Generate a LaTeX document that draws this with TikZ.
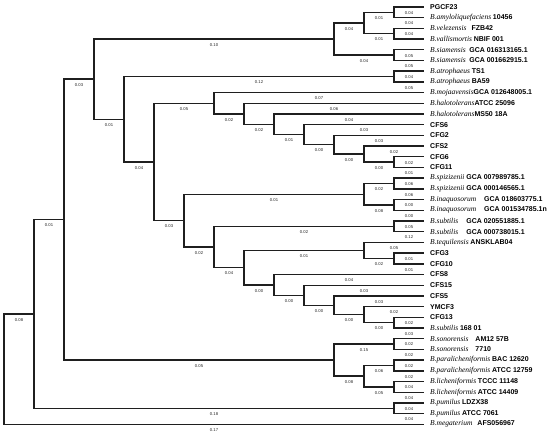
\documentclass[tikz,border=0pt]{standalone}
\usepackage{fontspec}
\setmainfont{Liberation Serif}
\setsansfont{Liberation Sans}
\newcommand\spc[1]{{\fontsize{7.5}{8}\selectfont\itshape #1}}
\newcommand\stn[1]{{\fontsize{7}{8}\selectfont\sffamily\bfseries #1}}
\newcommand\C[3]{\coordinate (#1) at (#2,{7+10.7*(#3-1)});}
\newcommand\E[3]{\draw[br] (#1) |- (#2) node[bl]{#3};}
\newcommand\En[2]{\draw[br] (#1) |- (#2);}
\newcommand\LF[2]{\node[lf] (n#1) at ([xshift=6pt]t#1) {#2};}
\tikzset{
  br/.style={line width=1.4pt, draw=black!88, line join=miter},
  bl/.style={pos=0.75, below=3.6pt, inner sep=0pt, text=black!85,
    font=\fontsize{4.2}{4.5}\selectfont\sffamily},
  lf/.style={anchor=west, inner sep=0pt, font=\fontsize{7}{8}\selectfont},
}
\begin{document}
\begin{tikzpicture}[x=1pt,y=-1pt]
\fill[white] (0,0) rectangle (550,436);
\useasboundingbox (0,0) rectangle (550,436);
% leaf tips
\foreach \i in {1,...,40}{\C{t\i}{424}{\i}}
% internal nodes
\C{r}{4}{34.84308}
\C{n1}{34}{29.68616}
\C{n2}{64}{20.87231}
\C{n3}{94}{7.74463}
\C{namy}{334}{4}
\C{namy2}{364}{2.5}
\C{p12}{394}{1.5}
\C{p34}{394}{3.5}
\C{p56}{394}{5.5}
\C{n4}{124}{11.48926}
\C{p78}{394}{7.5}
\C{n5}{154}{15.47852}
\C{nh1}{214}{9.9921875}
\C{nh2}{244}{10.984375}
\C{nh3}{274}{11.96875}
\C{nh4}{304}{12.9375}
\C{nh5}{334}{13.875}
\C{nh6}{364}{14.75}
\C{p1516}{394}{15.5}
\C{ns}{184}{20.96484}
\C{nspiz}{364}{18.5}
\C{p1718}{394}{17.5}
\C{p1920}{394}{19.5}
\C{ns2}{214}{23.4296875}
\C{p2122}{394}{21.5}
\C{ns3}{244}{25.359375}
\C{nteq}{364}{23.75}
\C{p2425}{394}{24.5}
\C{ns4}{274}{26.96875}
\C{ns5}{304}{27.9375}
\C{ns6}{334}{28.875}
\C{ns7}{364}{29.75}
\C{p3031}{394}{30.5}
\C{nl}{334}{34}
\C{p3233}{394}{32.5}
\C{nl2}{364}{35.5}
\C{p3435}{394}{34.5}
\C{p3637}{394}{36.5}
\C{p3839}{394}{38.5}
% edges
\E{r}{n1}{0.08}\E{r}{t40}{0.17}
\E{n1}{n2}{0.01}\E{n1}{p3839}{0.18}
\E{n2}{n3}{0.03}\E{n2}{nl}{0.05}
\E{n3}{namy}{0.10}\E{n3}{n4}{0.01}
\E{namy}{namy2}{0.04}\E{namy}{p56}{0.04}
\E{namy2}{p12}{0.01}\E{namy2}{p34}{0.01}
\E{p12}{t1}{0.04}\E{p12}{t2}{0.04}
\E{p34}{t3}{0.04}\En{p34}{t4}
\E{p56}{t5}{0.05}\E{p56}{t6}{0.05}
\E{n4}{p78}{0.12}\E{n4}{n5}{0.04}
\E{p78}{t7}{0.04}\E{p78}{t8}{0.05}
\E{n5}{nh1}{0.05}\E{n5}{ns}{0.03}
\E{nh1}{t9}{0.07}\E{nh1}{nh2}{0.02}
\E{nh2}{t10}{0.06}\E{nh2}{nh3}{0.02}
\E{nh3}{t11}{0.04}\E{nh3}{nh4}{0.01}
\E{nh4}{t12}{0.03}\E{nh4}{nh5}{0.00}
\E{nh5}{t13}{0.03}\E{nh5}{nh6}{0.00}
\E{nh6}{t14}{0.02}\E{nh6}{p1516}{0.00}
\E{p1516}{t15}{0.02}\E{p1516}{t16}{0.01}
\E{ns}{nspiz}{0.01}\E{ns}{ns2}{0.02}
\E{nspiz}{p1718}{0.02}\E{nspiz}{p1920}{0.08}
\E{p1718}{t17}{0.06}\E{p1718}{t18}{0.06}
\E{p1920}{t19}{0.00}\E{p1920}{t20}{0.00}
\E{ns2}{p2122}{0.02}\E{ns2}{ns3}{0.04}
\E{p2122}{t21}{0.05}\E{p2122}{t22}{0.12}
\E{ns3}{nteq}{0.01}\E{ns3}{ns4}{0.00}
\E{nteq}{t23}{0.05}\E{nteq}{p2425}{0.02}
\E{p2425}{t24}{0.01}\E{p2425}{t25}{0.01}
\E{ns4}{t26}{0.04}\E{ns4}{ns5}{0.00}
\E{ns5}{t27}{0.03}\E{ns5}{ns6}{0.00}
\E{ns6}{t28}{0.03}\E{ns6}{ns7}{0.00}
\E{ns7}{t29}{0.02}\E{ns7}{p3031}{0.00}
\E{p3031}{t30}{0.02}\E{p3031}{t31}{0.03}
\E{nl}{p3233}{0.15}\E{nl}{nl2}{0.08}
\E{p3233}{t32}{0.02}\E{p3233}{t33}{0.02}
\E{nl2}{p3435}{0.06}\E{nl2}{p3637}{0.05}
\E{p3435}{t34}{0.02}\E{p3435}{t35}{0.02}
\E{p3637}{t36}{0.04}\E{p3637}{t37}{0.04}
\E{p3839}{t38}{0.04}\E{p3839}{t39}{0.04}
% leaf labels
\LF{1}{\stn{PGCF23}}
\LF{2}{\spc{B.amyloliquefaciens} \stn{10456}}
\LF{3}{\spc{B.velezensis}\hspace{5pt}\stn{FZB42}}
\LF{4}{\spc{B.vallismortis} \stn{NBIF 001}}
\LF{5}{\spc{B.siamensis}\hspace{3.5pt}\stn{GCA 016313165.1}}
\LF{6}{\spc{B.siamensis}\hspace{3.5pt}\stn{GCA 001662915.1}}
\LF{7}{\spc{B.atrophaeus} \stn{TS1}}
\LF{8}{\spc{B.atrophaeus} \stn{BA59}}
\LF{9}{\spc{B.mojaavensis}\stn{GCA 012648005.1}}
\LF{10}{\spc{B.halotolerans}\stn{ATCC 25096}}
\LF{11}{\spc{B.halotolerans}\stn{MS50 18A}}
\LF{12}{\stn{CFS6}}
\LF{13}{\stn{CFG2}}
\LF{14}{\stn{CFS2}}
\LF{15}{\stn{CFG6}}
\LF{16}{\stn{CFG11}}
\LF{17}{\spc{B.spizizenii} \stn{GCA 007989785.1}}
\LF{18}{\spc{B.spizizenii} \stn{GCA 000146565.1}}
\LF{19}{\spc{B.inaquosorum}\hspace{8pt}\stn{GCA 018603775.1}}
\LF{20}{\spc{B.inaquosorum}\hspace{8pt}\stn{GCA 001534785.1n}}
\LF{21}{\spc{B.subtilis}\hspace{8pt}\stn{GCA 020551885.1}}
\LF{22}{\spc{B.subtilis}\hspace{8pt}\stn{GCA 000738015.1}}
\LF{23}{\spc{B.tequilensis} \stn{ANSKLAB04}}
\LF{24}{\stn{CFG3}}
\LF{25}{\stn{CFG10}}
\LF{26}{\stn{CFS8}}
\LF{27}{\stn{CFS15}}
\LF{28}{\stn{CFS5}}
\LF{29}{\stn{YMCF3}}
\LF{30}{\stn{CFG13}}
\LF{31}{\spc{B.subtilis} \stn{168 01}}
\LF{32}{\spc{B.sonorensis}\hspace{7pt}\stn{AM12 57B}}
\LF{33}{\spc{B.sonorensis}\hspace{7pt}\stn{7710}}
\LF{34}{\spc{B.paralicheniformis} \stn{BAC 12620}}
\LF{35}{\spc{B.paralicheniformis} \stn{ATCC 12759}}
\LF{36}{\spc{B.licheniformis} \stn{TCCC 11148}}
\LF{37}{\spc{B.licheniformis} \stn{ATCC 14409}}
\LF{38}{\spc{B.pumilus} \stn{LDZX38}}
\LF{39}{\spc{B.pumilus} \stn{ATCC 7061}}
\LF{40}{\spc{B.megaterium}\hspace{5pt}\stn{AFS056967}}
\end{tikzpicture}
\end{document}
